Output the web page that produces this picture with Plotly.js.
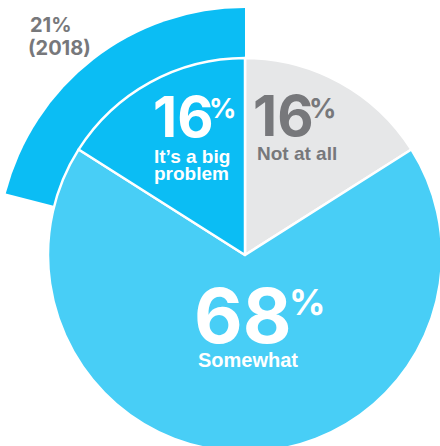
<!DOCTYPE html>
<html><head><meta charset="utf-8">
<script src="https://cdn.plot.ly/plotly-3.0.1.min.js"></script>
<style>
html,body{margin:0;padding:0;overflow:hidden;background:#fff;width:440px;height:446px;}
#chart{position:absolute;left:-55px;top:-45px;width:600px;height:600px;}
</style>
</head><body><div id="chart"></div>
<script>
// ---- data ----
const categories = ["Not at all", "Somewhat", "It’s a big problem"];
const labelLines = [["Not at all"], ["Somewhat"], ["It’s a big", "problem"]];
const shares2019 = [16, 68, 16];
const share2018 = 21;
const year2018 = "2018";
const sliceColors = ["#E6E7E8", "#48CEF6", "#0BBDF4"];

// ---- layout geometry ----
const W = 600, H = 600, OX = -55, OY = -45;
const CX = 245, CY = 255, R_IN = 197, R_OUT = 247;
const px = x => (x - OX) / W;
const py = y => 1 - (y - OY) / H;

const TXT = "Liberation Sans, Arial, sans-serif";
const NUM = "Inter, Liberation Sans, sans-serif";
const GRAY = "#77787B";

// 2018 band: clockwise from 12 o'clock, the remainder first (transparent), then the 2018 share
const outer = {
  type: "pie", values: [100 - share2018, share2018], labels: ["other", year2018],
  sort: false, direction: "clockwise", rotation: 0,
  marker: {colors: ["rgba(0,0,0,0)", sliceColors[2]], line: {width: 0}},
  textinfo: "none", hoverinfo: "skip", showlegend: false,
  domain: {x: [px(CX - R_OUT), px(CX + R_OUT)], y: [py(CY + R_OUT), py(CY - R_OUT)]}
};
const inner = {
  type: "pie", values: shares2019, labels: categories,
  sort: false, direction: "clockwise", rotation: 0,
  marker: {colors: sliceColors, line: {color: "#ffffff", width: 2.5}},
  textinfo: "none", hoverinfo: "skip", showlegend: false,
  domain: {x: [px(CX - R_IN), px(CX + R_IN)], y: [py(CY + R_IN), py(CY - R_IN)]}
};

function ann(text, x, y, xanchor, size, color, family) {
  return {text: text, x: px(x), y: py(y), xref: "paper", yref: "paper",
    xanchor: xanchor, yanchor: "middle", showarrow: false, borderpad: 0,
    font: {family: family, size: size, color: color, weight: 700}};
}

const annotations = [
  ann(share2018 + "%", 28.5, 24.5, "left", 20, GRAY, NUM),
  ann("(" + year2018 + ")", 27, 48.3, "left", 20, GRAY, NUM),
  // big problem
  ann(String(shares2019[2]), 214.5, 117, "right", 56, "#ffffff", NUM),
  ann("%", 207.5, 109, "left", 27, "#ffffff", NUM),
  ann(labelLines[2][0], 191.5, 156.5, "center", 19, "#ffffff", TXT),
  ann(labelLines[2][1], 191.5, 173.5, "center", 19, "#ffffff", TXT),
  // not at all
  ann(String(shares2019[0]), 315, 116, "right", 56, GRAY, NUM),
  ann("%", 308, 108, "left", 27, GRAY, NUM),
  ann(labelLines[0][0], 256, 153, "left", 19, GRAY, TXT),
  // somewhat
  ann(String(shares2019[1]), 293, 315, "right", 75, "#ffffff", NUM),
  ann("%", 287.5, 301.5, "left", 36, "#ffffff", NUM),
  ann(labelLines[1][0], 247.5, 360, "center", 20, "#ffffff", TXT)
];

Plotly.newPlot("chart", [outer, inner], {
  width: W, height: H, margin: {l: 0, r: 0, t: 0, b: 0},
  paper_bgcolor: "rgba(0,0,0,0)", plot_bgcolor: "rgba(0,0,0,0)",
  showlegend: false, annotations: annotations
}, {staticPlot: true, displayModeBar: false});
</script>
</body></html>
